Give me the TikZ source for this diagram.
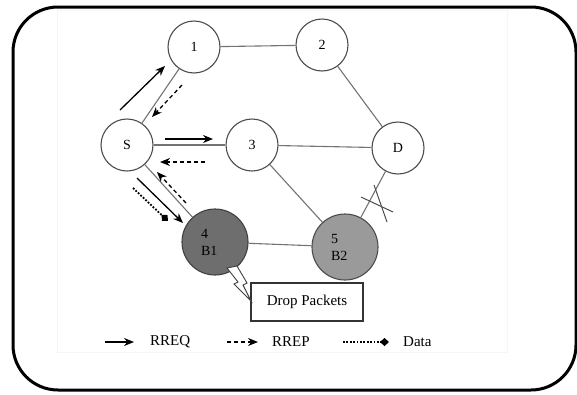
\documentclass[tikz,border=0pt]{standalone}
\usepackage{fontspec}
\setmainfont{Liberation Serif}
\usetikzlibrary{positioning,arrows.meta}
\definecolor{bOneGray}{HTML}{6E6E6E}
\definecolor{bTwoGray}{HTML}{9A9A9A}
\tikzset{
  >=Stealth,
  netnode/.style={
    circle,
    draw=black!70,
    line width=1.1pt,
    fill=white,
    inner sep=0pt,
    minimum size=52pt,
    font=\fontsize{14}{16}\selectfont
  },
  blacknode/.style={
    netnode,
    minimum size=66pt,
    text width=28pt,
    align=left,
    font=\fontsize{14}{17}\selectfont
  },
  link/.style={draw=black!55, line width=1.1pt},
  rreq/.style={-{Stealth[length=10pt,width=8pt]}, line width=1.3pt},
  rrep/.style={-{Stealth[length=10pt,width=8pt]}, line width=1.3pt,
    dash pattern=on 4pt off 3pt},
  datamsg/.style={-{Diamond[length=9pt,width=8pt]}, line width=1.8pt,
    dash pattern=on 1.8pt off 1.6pt},
  legtext/.style={inner sep=0pt, anchor=west, font=\fontsize{15}{17}\selectfont}
}

\begin{document}
\begin{tikzpicture}[x=1pt, y=-1pt]
  \useasboundingbox (0,0) rectangle (577,394);
  % frame
  \draw[line width=3pt, rounded corners=45pt] (13,7) rectangle (576,390);
  \draw[black!4, line width=0.6pt] (57,10) rectangle (507,352);

  % nodes
  \node[netnode] (s) at (127,145) {S};
  \node[netnode] (n1) at (194,47) {1};
  \node[netnode] (n2) at (322,45) {2};
  \node[netnode] (n3) at (252,145) {3};
  \node[netnode] (d) at (398,148) {D};
  \node[blacknode, fill=bOneGray, draw=black!75] (b1) at (215,242) {4\\B1};
  \node[blacknode, fill=bTwoGray, draw=black!70] (b2) at (345,247) {5\\B2};

  % links
  \draw[link] (s) -- (n1);
  \draw[link] (n1) -- (n2);
  \draw[link] (n2) -- (d);
  \draw[link] (s) -- (n3);
  \draw[link] (n3) -- (d);
  \draw[link] (n3) -- (b2);
  \draw[link] (s) -- (b1);
  \draw[link] (b1) -- (b2);
  \draw[link] (b2) -- (d);
  % broken link
  \draw[black!70, line width=1pt] (361,197) -- (393,212);
  \draw[black!70, line width=1pt] (374,185) -- (387,222);

  % messages
  \draw[rreq] (120,110) -- (165,66);
  \draw[rrep] (182,85) -- (152,117);
  \draw[rreq] (165,139) -- (213,139);
  \draw[rrep] (205,162) -- (160,162);
  \draw[rreq] (137,178) -- (183,223);
  \draw[rrep] (186,203) -- (157,172);
  \draw[datamsg] (133,188) -- (168,221);

  % drop packets callout
  \node[draw=black!80, line width=1.2pt, fill=white, minimum width=112pt,
    minimum height=38pt, inner sep=0pt,
    font=\fontsize{15}{17}\selectfont] (drop) at (307,302) {Drop Packets};
  \draw[black!75, line width=0.9pt, fill=white]
    (227,268) -- (238,282) -- (234,284) -- (251,301)
    -- (243,285) -- (247,283) -- (237,266) -- cycle;

  % legend
  \coordinate (q1) at (105,342);
  \coordinate (q2) at (134,342);
  \coordinate (p1) at (227,342);
  \coordinate (p2) at (258,342);
  \coordinate (m1) at (343,342);
  \coordinate (m2) at (389,342);
  \draw[rreq] (q1) -- (q2);
  \draw[rrep] (p1) -- (p2);
  \draw[datamsg] (m1) -- (m2);
  \node[legtext, right=16pt of q2] (lq) {RREQ};
  \node[legtext, right=14pt of p2] (lp) {RREP};
  \node[legtext, right=14pt of m2] (lm) {Data};
\end{tikzpicture}
\end{document}
